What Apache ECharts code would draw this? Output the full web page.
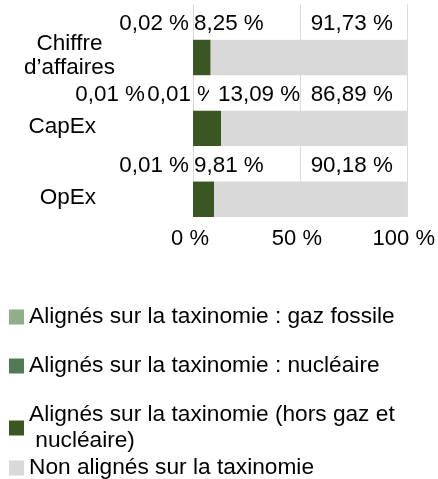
<!DOCTYPE html>
<html>
<head>
<meta charset="utf-8">
<script src="https://cdn.jsdelivr.net/npm/echarts@6/dist/echarts.min.js"></script>
<style>
html,body{margin:0;padding:0;background:#fff;}
#chart{width:438px;height:479px;}
</style>
</head>
<body>
<div id="chart"></div>
<script>
// ---- data ----
const categories = ['Chiffre d’affaires', 'CapEx', 'OpEx'];
const seriesNames = [
  'Alignés sur la taxinomie : gaz fossile',
  'Alignés sur la taxinomie : nucléaire',
  'Alignés sur la taxinomie (hors gaz et nucléaire)',
  'Non alignés sur la taxinomie'
];
const gasFossile  = [0.02, 0.01, 0.01];
const nucleaire   = [0, 0.01, 0];
const alignesHors = [8.25, 13.09, 9.81];
const nonAlignes  = [91.73, 86.89, 90.18];
const xTicks = [0, 50, 100];

const colors = ['#8fae8c', '#527a56', '#3a5623', '#d9d9d9'];
const FONT = "'Liberation Sans', Arial, sans-serif";
const values = [gasFossile, nucleaire, alignesHors, nonAlignes];

const fmt = v => (v === 0 ? '' : v.toFixed(2).replace('.', ',') + ' %');

// label placement per series (relative to the segment)
const labelCfg = [
  {position: 'left', distance: 4},
  {position: 'left', distance: 4},
  {position: 'insideLeft', distance: 1},
  {position: 'insideRight', distance: 14}
];
// per-item label tweaks to avoid overlaps (CapEx row)
const itemLabel = [
  [{offset: [0, 2]}, {offset: [-44, 2]}, {offset: [0, 2]}],
  [{offset: [0, 2]}, {offset: [28, 2]}, {offset: [0, 2]}],
  [{offset: [0, 2]}, {offset: [15, 2], padding: [0, 0, 0, 9], backgroundColor: '#fff'}, {offset: [0, 2]}],
  [{offset: [0, 2]}, {offset: [0, 2]}, {offset: [0, 2]}]
];

const series = [];
// transparent label row (upper half of each category)
values.forEach((arr, s) => {
  series.push({
    name: 'lbl' + s,
    type: 'bar',
    stack: 'labels',
    silent: true,
    barGap: '0%',
    barCategoryGap: '0%',
    itemStyle: {color: 'rgba(0,0,0,0)'},
    label: {
      show: true,
      position: labelCfg[s].position,
      distance: labelCfg[s].distance,
      fontFamily: FONT,
      fontSize: 22.4,
      color: '#000',
      formatter: p => fmt(p.value)
    },
    data: arr.map((v, i) => ({value: v, label: itemLabel[s][i]}))
  });
});
// visible bars (lower half)
values.forEach((arr, s) => {
  series.push({
    name: seriesNames[s],
    type: 'bar',
    stack: 'bars',
    barGap: '0%',
    barCategoryGap: '0%',
    itemStyle: {color: colors[s]},
    data: arr
  });
});

const chart = echarts.init(document.getElementById('chart'), null, {renderer: 'canvas'});
chart.setOption({
  animation: false,
  textStyle: {fontFamily: FONT},
  grid: {left: 193, right: 29, top: 0, height: 217},
  xAxis: {
    type: 'value',
    min: xTicks[0], max: xTicks[xTicks.length - 1], interval: xTicks[1] - xTicks[0],
    axisLine: {show: false},
    axisTick: {show: false},
    splitLine: {show: true, lineStyle: {color: '#d9d9d9', width: 1}},
    axisLabel: {
      fontFamily: FONT, fontSize: 22, color: '#000', margin: 11,
      padding: [0, 6, 0, 0],
      formatter: v => v + ' %'
    }
  },
  yAxis: {
    type: 'category',
    inverse: true,
    data: categories,
    axisLine: {show: false},
    axisTick: {show: false},
    axisLabel: {
      interval: 0,
      hideOverlap: false,
      fontFamily: FONT, fontSize: 22, color: '#000', margin: 76,
      padding: [33, 0, 0, 0],
      lineHeight: 24,
      formatter: v => v === categories[0]
        ? '{a|' + v.replace(' ', '}\n{a|') + '}'
        : '{b|' + v + '}',
      rich: {
        a: {fontFamily: FONT, fontSize: 22.5, color: '#000', width: 95, align: 'center', lineHeight: 24},
        b: {fontFamily: FONT, fontSize: 22.5, color: '#000', padding: [0, 21, 0, 0], lineHeight: 24}
      }
    }
  },
  legend: [
    {
      orient: 'vertical', left: 9, top: 304, itemGap: 23, padding: 0,
      itemWidth: 15, itemHeight: 15, icon: 'rect',
      data: seriesNames.slice(0, 3),
      selectedMode: false,
      formatter: n => n.replace('et nucléaire', 'et\n nucléaire'),
      textStyle: {fontFamily: FONT, fontSize: 22.7, color: '#000', lineHeight: 26}
    },
    {
      orient: 'vertical', left: 9, top: 455, padding: 0,
      itemWidth: 15, itemHeight: 15, icon: 'rect',
      data: seriesNames.slice(3),
      selectedMode: false,
      textStyle: {fontFamily: FONT, fontSize: 22.7, color: '#000', lineHeight: 26}
    }
  ],
  series: series
});
</script>
</body>
</html>
